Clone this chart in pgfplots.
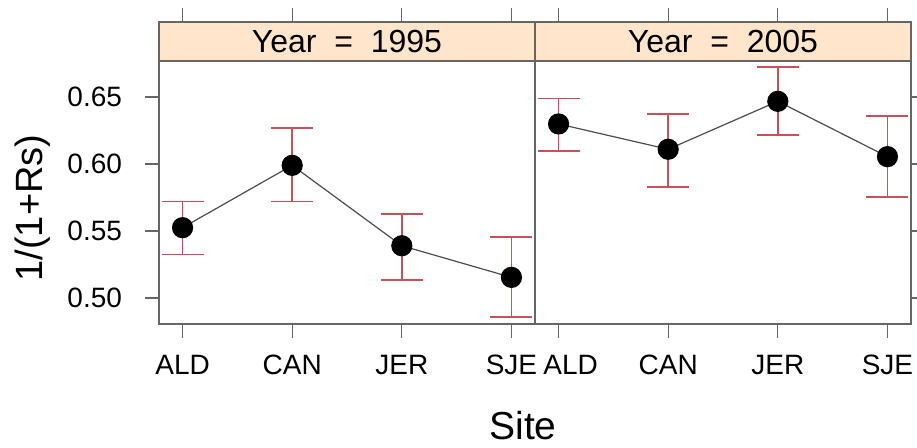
\documentclass[border=0pt]{standalone}
\usepackage{pgfplots}
\pgfplotsset{compat=1.18}
\usepackage{fontspec}
\setmainfont{Liberation Sans}

\definecolor{stripcol}{HTML}{FFE5CC}
\definecolor{errcol}{RGB}{200,80,90}
\definecolor{framecol}{gray}{0.4}

% site, mean, upper error, lower error
\pgfplotstableread{
x y ep em
1 0.5525 0.0195 0.0200
2 0.5990 0.0280 0.0270
3 0.5390 0.0237 0.0256
4 0.5154 0.0300 0.0298
}\yearA
\pgfplotstableread{
x y ep em
1 0.6299 0.0190 0.0204
2 0.6110 0.0266 0.0282
3 0.6468 0.0254 0.0252
4 0.6055 0.0305 0.0303
}\yearB

\pgfplotsset{
  panel/.style={
    scale only axis, width=188pt, height=151pt,
    xmin=0.785, xmax=4.215, ymin=0.4806, ymax=0.706,
    xtick={1,2,3,4},
    ytick={0.50,0.55,0.60,0.65},
    xtick pos=both, tick align=outside, major tick length=7pt,
    tick style={framecol, line width=0.6pt},
    axis line style={framecol, line width=0.6pt},
    axis on top, clip=false,
    tick label style={font=\fontsize{14}{14}\selectfont},
    xticklabel style={yshift=-5pt},
    yticklabel style={xshift=-8pt},
  },
  errbars/.style={
    errcol, draw=none, mark=none, forget plot,
    error bars/.cd, y dir=both, y explicit,
    error bar style={draw=errcol, line width=0.9pt},
    error mark options={draw=errcol, line width=0.9pt, mark size=10.5pt, rotate=90},
  },
  means/.style={
    black!70, line width=0.6pt,
    mark=*, mark size=5pt, mark options={fill=black, draw=black},
  },
}

\newcommand{\strip}[1]{%
  \fill[stripcol] (axis cs:0.785,0.6769) rectangle (axis cs:4.215,0.706);
  \draw[framecol, line width=0.6pt] (axis cs:0.785,0.6769) -- (axis cs:4.215,0.6769);
  \node[font=\fontsize{16}{16}\selectfont] at (axis cs:2.5,0.6915) {#1};
}

\begin{document}
\begin{tikzpicture}
\path[use as bounding box] (-79.5pt,-62pt) rectangle (379pt,162pt);

\begin{axis}[panel, ytick pos=left,
    xticklabels={ALD,CAN,JER,SJE\hspace{11pt}},
    yticklabels={0.50,0.55,0.60,0.65}]
  \strip{Year\ \ =\ \ 1995}
  \addplot[errbars] table[x=x, y=y, y error plus=ep, y error minus=em] {\yearA};
  \addplot[means] table[x=x, y=y] {\yearA};
\end{axis}

\begin{axis}[panel, at={(188pt,0pt)}, ytick pos=right, yticklabels={},
    xticklabels={\hspace{12pt}ALD,CAN,JER,SJE}]
  \strip{Year\ \ =\ \ 2005}
  \addplot[errbars] table[x=x, y=y, y error plus=ep, y error minus=em] {\yearB};
  \addplot[means] table[x=x, y=y] {\yearB};
\end{axis}

\node[rotate=90, font=\fontsize{19}{19}\selectfont] at (-63pt,58pt) {1/(1+Rs)};
\node[anchor=base, font=\fontsize{19.5}{19.5}\selectfont] at (182pt,-58pt) {Site};
\end{tikzpicture}
\end{document}
